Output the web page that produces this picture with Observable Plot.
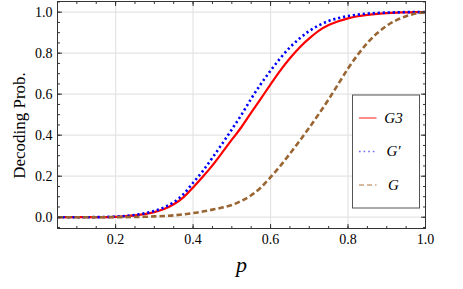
<!DOCTYPE html>
<html><head><meta charset="utf-8">
<script src="https://cdn.jsdelivr.net/npm/d3@7"></script>
<script src="https://cdn.jsdelivr.net/npm/@observablehq/plot@0.6"></script>
<style>
html,body{margin:0;padding:0;background:#fff}
#chart{width:463px;height:289px}
#chart svg, #chart svg text { font-family: "Liberation Serif", "Times New Roman", serif !important; }
</style>
</head><body><div id="chart"></div>
<script>
// ---- data ----
const pValues = [0.05,0.1,0.15,0.2,0.225,0.25,0.275,0.3,0.325,0.35,0.375,0.4,0.425,0.45,0.475,0.5,0.525,0.55,0.575,0.6,0.625,0.65,0.675,0.7,0.725,0.75,0.775,0.8,0.825,0.85,0.875,0.9,0.925,0.95,0.975,1.0];
const g3Values = [0,0,0.0005,0.002,0.005,0.009,0.015,0.025,0.04,0.063,0.097,0.145,0.197,0.253,0.315,0.378,0.44,0.51,0.578,0.648,0.715,0.775,0.828,0.872,0.91,0.937,0.956,0.97,0.98,0.987,0.992,0.995,0.998,0.999,1.0,1.0];
const gPrimeValues = [0,0,0.0005,0.003,0.006,0.011,0.019,0.03,0.048,0.073,0.112,0.168,0.225,0.29,0.358,0.428,0.5,0.578,0.65,0.715,0.775,0.828,0.872,0.908,0.936,0.957,0.971,0.981,0.988,0.993,0.996,0.998,0.999,1.0,1.0,1.0];
const gValues = [0,0,0,0.0003,0.0006,0.001,0.002,0.004,0.006,0.009,0.014,0.02,0.028,0.037,0.047,0.06,0.08,0.107,0.145,0.195,0.25,0.31,0.372,0.437,0.505,0.575,0.65,0.725,0.792,0.85,0.897,0.934,0.961,0.98,0.993,1.0];

const seriesNames = ["G3", "G\u2032", "G"];
const seriesColors = ["#ff0000", "#0000ff", "#996633"];
const legendColors = ["#ff4d4d", "#6b6bff", "#c9a581"];
const seriesDash = [null, "2.2,2.8", "5.5,3"];

const xMajorTicks = [0.2, 0.4, 0.6, 0.8, 1.0];
const xMinorTicks = [0.05,0.1,0.15,0.2,0.25,0.3,0.35,0.4,0.45,0.5,0.55,0.6,0.65,0.7,0.75,0.8,0.85,0.9,0.95,1.0];
const yMajorTicks = [0, 0.2, 0.4, 0.6, 0.8, 1.0];
const yMinorTicks = [-0.05,0,0.05,0.1,0.15,0.2,0.25,0.3,0.35,0.4,0.45,0.5,0.55,0.6,0.65,0.7,0.75,0.8,0.85,0.9,0.95,1.0,1.05];
const xLabel = "p";
const yLabel = "Decoding Prob.";

// ---- build table ----
const seriesValues = [g3Values, gPrimeValues, gValues];
const rows = [];
seriesValues.forEach((vals, s) => vals.forEach((v, i) => rows.push({p: pValues[i], v, s: seriesNames[s]})));

const frameColor = "#333";
const serif = "Liberation Serif, Times New Roman, serif";

function ticks(data, len, side) {
  const rot = {bottom: 0, top: 180, left: 90, right: -90}[side];
  const ch = (side === "bottom" || side === "top") ? {x: d => d} : {y: d => d};
  return Plot.vector(data, {...ch, frameAnchor: side, length: len, rotate: rot, anchor: "start", r: 0, stroke: frameColor, strokeWidth: 1, strokeLinecap: "butt"});
}

const lineMarks = seriesNames.map((name, s) =>
  Plot.line(rows.filter(d => d.s === name), {
    x: "p", y: "v", curve: "monotone-x",
    stroke: seriesColors[s], strokeWidth: s === 0 ? 2.2 : 2.6,
    strokeDasharray: seriesDash[s], strokeLinecap: "butt"
  })
);

const chart = Plot.plot({
  width: 463, height: 289,
  marginLeft: 57, marginRight: 38, marginTop: 1, marginBottom: 61,
  x: {domain: [0.05, 1.0]},
  y: {domain: [-0.055, 1.052]},
  style: {fontFamily: serif, fontSize: "14px", background: "#fff", color: "#000", overflow: "visible"},
  marks: [
    Plot.gridX(xMajorTicks, {stroke: "#e4e4e4", strokeOpacity: 1, strokeWidth: 1.2}),
    Plot.gridY(yMajorTicks, {stroke: "#e4e4e4", strokeOpacity: 1, strokeWidth: 1.2}),
    ...lineMarks,
    Plot.frame({stroke: frameColor, strokeWidth: 1}),
    ticks(xMinorTicks, 2.5, "bottom"), ticks(xMajorTicks, 4.5, "bottom"),
    ticks(xMinorTicks, 2.5, "top"), ticks(xMajorTicks, 4.5, "top"),
    ticks(yMinorTicks, 2.5, "left"), ticks(yMajorTicks, 4.5, "left"),
    ticks(yMinorTicks, 2.5, "right"), ticks(yMajorTicks, 4.5, "right"),
    Plot.axisX(xMajorTicks, {anchor: "bottom", tickSize: 0, tickPadding: 6, tickFormat: d3.format(".1f"), label: null, fontSize: 14}),
    Plot.axisY(yMajorTicks, {anchor: "left", tickSize: 0, tickPadding: 5, tickFormat: d3.format(".1f"), label: null, fontSize: 14}),
    Plot.text([xLabel], {frameAnchor: "bottom", dy: 43, lineAnchor: "bottom", textAnchor: "middle", fontSize: 22, fontStyle: "italic"}),
    Plot.text([yLabel], {frameAnchor: "left", dx: -33, dy: 10.5, rotate: -90, lineAnchor: "bottom", textAnchor: "middle", fontSize: 17})
  ]
});
document.getElementById("chart").appendChild(chart);

// ---- legend (inset box) ----
const svg = d3.select(chart);
const lg = svg.append("g").attr("transform", "translate(352.5,95)");
lg.append("rect").attr("width", 67).attr("height", 113).attr("fill", "#fff").attr("stroke", "#555").attr("stroke-width", 1);
seriesNames.forEach((name, i) => {
  const y = 23 + i * 33.5;
  lg.append("line").attr("x1", 6.5).attr("x2", 24).attr("y1", y).attr("y2", y)
    .attr("stroke", legendColors[i]).attr("stroke-width", 1.3)
    .attr("stroke-dasharray", i === 1 ? "1.6,3" : i === 2 ? "5,3" : null);
  lg.append("text").attr("x", 41).attr("y", y + 4.5).attr("font-style", "italic").attr("font-size", 15)
    .attr("fill", "#000").text(name);
});
</script>
</body></html>
